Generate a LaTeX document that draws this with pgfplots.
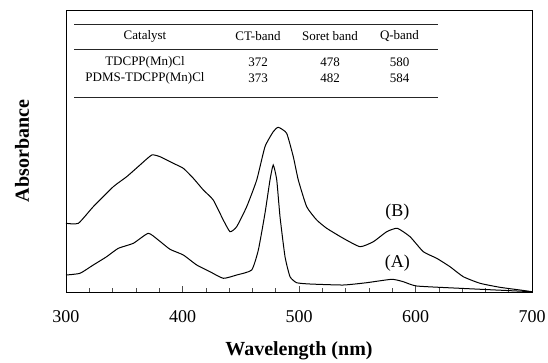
\documentclass[border=0pt]{standalone}
\usepackage{pgfplots}
\pgfplotsset{compat=1.18}
\usepackage{fontspec}
\setmainfont{Liberation Serif}
\begin{document}
\begin{tikzpicture}[x=1pt,y=1pt]
\useasboundingbox (-66,-70) rectangle (482,292);
\begin{axis}[
  at={(0pt,0pt)}, anchor=south west,
  scale only axis, width=466pt, height=282pt,
  xmin=300, xmax=700, ymin=0, ymax=2.82,
  axis line style={line width=0.9pt},
  xtick={300,400,...,700},
  minor x tick num=4,
  ytick=\empty,
  xtick pos=bottom,
  tick align=inside,
  major tick length=6pt, minor tick length=4pt,
  tick style={black!70, line width=0.6pt},
  /pgf/number format/assume math mode=true,
  xticklabel style={font=\fontsize{18}{18}\selectfont, yshift=-15pt},
  xlabel={Wavelength (nm)},
  xlabel style={font=\fontsize{20}{20}\selectfont\bfseries, at={(rel axis cs:0.5,0)}, anchor=center, yshift=-59pt},
  ylabel={Absorbance},
  ylabel style={font=\fontsize{20}{20}\selectfont\bfseries, at={(axis description cs:-0.0944,0.5)}, anchor=center},
  clip=true,
]
% Curve (B) PDMS-TDCPP(Mn)Cl
\addplot[black, line width=1pt, smooth, tension=0.3] coordinates {
(300,0.687) (310.6,0.687) (323.4,0.853) (340.6,1.053) (352.1,1.153) (363.5,1.27)
(373.6,1.37) (380.7,1.353) (392.1,1.287) (400.7,1.237) (409.3,1.137) (417.9,1.02)
(426.4,0.92) (435.0,0.72) (440.8,0.603) (446.5,0.653) (455.1,0.853) (463.7,1.12)
(470.8,1.453) (477.9,1.603) (482.2,1.647) (489.4,1.587) (495.1,1.353) (499.4,1.12)
(506.6,0.853) (515.2,0.72) (523.8,0.637) (538.0,0.537) (552.4,0.453) (563.8,0.503)
(575.3,0.603) (584.4,0.637) (595.3,0.553) (606.7,0.403) (618.2,0.337) (629.6,0.253)
(641.0,0.153) (655.4,0.087) (672.5,0.047) (689.7,0.02) (700,0.003)
};
% Curve (A) TDCPP(Mn)Cl
\addplot[black, line width=1pt, smooth, tension=0.3] coordinates {
(300,0.17) (312.0,0.187) (323.4,0.27) (334.9,0.353) (344.9,0.437) (357.8,0.487)
(370.6,0.587) (379.2,0.52) (389.3,0.427) (400.7,0.37) (412.2,0.27) (423.6,0.203)
(435.0,0.137) (446.5,0.17) (459.4,0.22) (465.1,0.42) (470.8,0.787) (475.1,1.12)
(477.9,1.27) (480.9,1.12) (483.7,0.753) (488.0,0.353) (492.3,0.153) (498.0,0.093)
(509.4,0.08) (538.0,0.07) (558.1,0.093) (579.6,0.127) (589.5,0.103) (601.0,0.06)
(638.2,0.037) (700,0.003)
};
\node[font=\fontsize{18}{18}\selectfont] at (axis cs:584.4,0.80) {(B)};
\node[font=\fontsize{18}{18}\selectfont] at (axis cs:584.4,0.29) {(A)};
\end{axis}
% inset table
\begin{scope}[font=\fontsize{13}{13}\selectfont]
\draw[line width=0.9pt, black!85] (8,268) -- (372,268);
\draw[line width=0.6pt, black!85] (8,242.7) -- (372,242.7);
\draw[line width=0.9pt, black!85] (8,194.3) -- (372,194.3);
\node at (79,256) {Catalyst};
\node at (192,256) {CT-band};
\node at (264,256) {Soret band};
\node at (333.5,256) {Q-band};
\node at (79,229.5) {TDCPP(Mn)Cl};
\node at (192,229.5) {372};
\node at (264,229.5) {478};
\node at (333.5,229.5) {580};
\node at (79,213.5) {PDMS-TDCPP(Mn)Cl};
\node at (192,213.5) {373};
\node at (264,213.5) {482};
\node at (333.5,213.5) {584};
\end{scope}
\end{tikzpicture}
\end{document}
